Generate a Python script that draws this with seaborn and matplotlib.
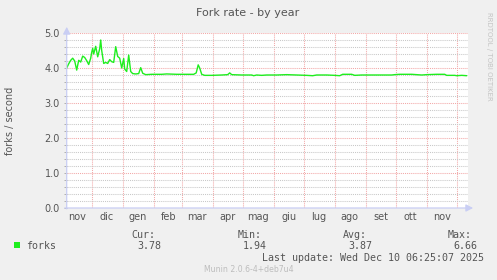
import matplotlib
matplotlib.use("Agg")
import numpy as np
import pandas as pd
import seaborn as sns
import matplotlib.pyplot as plt
import matplotlib.dates as mdates
from matplotlib.ticker import MultipleLocator, FuncFormatter, FormatStrFormatter
from matplotlib.patches import Rectangle

# ---------------- data ----------------
start_date = "2024-11-06"
day_offset = [0, 2, 4, 6, 8, 10, 12, 14, 16, 18, 20, 22, 24, 25, 26, 27, 29, 31, 33, 34,
              35, 37, 39, 41, 43, 45, 47, 49, 51, 53, 54, 55, 57, 58, 60, 62, 64, 66, 69, 72,
              74, 76, 79, 85, 95, 100, 110, 120, 127, 129.5, 131.5, 133, 135, 138, 145, 155,
              161, 163, 165, 175, 185, 187, 190, 195, 200, 210, 220, 230, 240, 246, 250, 260,
              268, 273, 276, 285, 288, 295, 310, 325, 328, 333, 345, 355, 360, 370, 378, 380,
              388, 390, 395, 400]
forks_per_sec = [4.00, 4.12, 4.22, 4.28, 4.20, 3.94, 4.22, 4.17, 4.34, 4.30, 4.21, 4.10, 4.28,
                 4.45, 4.56, 4.40, 4.62, 4.32, 4.55, 4.80, 4.50, 4.13, 4.16, 4.13, 4.24, 4.18,
                 4.16, 4.61, 4.33, 4.28, 4.14, 4.00, 4.27, 3.97, 3.90, 4.37, 3.90, 3.84, 3.83,
                 3.84, 4.01, 3.85, 3.81, 3.82, 3.82, 3.83, 3.82, 3.82, 3.82, 3.86, 4.09, 4.00,
                 3.82, 3.79, 3.79, 3.80, 3.81, 3.86, 3.81, 3.80, 3.80, 3.78, 3.80, 3.79, 3.80,
                 3.80, 3.81, 3.80, 3.79, 3.78, 3.80, 3.80, 3.79, 3.78, 3.82, 3.82, 3.79, 3.80,
                 3.80, 3.80, 3.81, 3.82, 3.82, 3.80, 3.81, 3.82, 3.82, 3.79, 3.79, 3.78, 3.79,
                 3.78]
month_names = ["gen", "feb", "mar", "apr", "mag", "giu", "lug", "ago", "set", "ott", "nov", "dic"]
series_name = "forks"
legend_headers = ["Cur:", "Min:", "Avg:", "Max:"]
legend_values = ["3.78", "1.94", "3.87", "6.66"]
title_text = "Fork rate - by year"
ylabel_text = "forks / second"
last_update = "Last update: Wed Dec 10 06:25:07 2025"
footer_text = "Munin 2.0.6-4+deb7u4"
watermark_text = "RRDTOOL / TOBI OETIKER"

# ---------------- style ----------------
sns.set_theme(style="white")
plt.rcParams["font.family"] = ["DejaVu Sans"]

W, H = 497, 280
BG = "#F0F0F0"
GREEN = "#1EEE1E"
TXT = "#555555"
AXIS = "#C9CEF4"
RED_GRID = "#F2A8A8"
GRAY_GRID = "#C8C8C8"

def fx(px):
    return px / W

def fy(py):
    return 1 - py / H

fig = plt.figure(figsize=(W / 100, H / 100), dpi=100, facecolor=BG)
ax = fig.add_axes([fx(66.7), fy(208), (468.3 - 66.7) / W, 175 / H])
ax.set_facecolor("white")

t0 = pd.Timestamp(start_date)
df = pd.DataFrame({
    "date": t0 + pd.to_timedelta(day_offset, unit="D"),
    "rate": forks_per_sec,
})
sns.lineplot(data=df, x="date", y="rate", ax=ax, color=GREEN, linewidth=1.0, zorder=5)

ax.set_xlim(t0, t0 + pd.Timedelta(days=401.6))
ax.set_ylim(0, 5)

# y axis ticks / grid
ax.yaxis.set_major_locator(MultipleLocator(1.0))
ax.yaxis.set_minor_locator(MultipleLocator(0.2))
ax.yaxis.set_major_formatter(FormatStrFormatter("%.1f"))
ax.tick_params(axis="y", which="both", length=2.4, width=0.7, color="#B0B0B0",
               direction="out", left=True, labelsize=7, labelcolor=TXT, pad=2.4)

# x axis: month boundaries (grid) and mid-month labels
ax.xaxis.set_major_locator(mdates.MonthLocator(bymonthday=1))
ax.xaxis.set_major_formatter(plt.NullFormatter())
ax.xaxis.set_minor_locator(mdates.MonthLocator(bymonthday=16))
ax.xaxis.set_minor_formatter(FuncFormatter(lambda v, p: month_names[mdates.num2date(v).month - 1]))
ax.tick_params(axis="x", which="both", length=0, labelsize=7, labelcolor=TXT, pad=3)

dot = (0, (1, 1))
ax.grid(which="major", axis="x", color=RED_GRID, linestyle=dot, linewidth=0.75)
ax.grid(which="major", axis="y", color=RED_GRID, linestyle=dot, linewidth=0.75)
ax.grid(which="minor", axis="y", color=GRAY_GRID, linestyle=dot, linewidth=0.75)
ax.grid(which="minor", axis="x", visible=False)
ax.set_axisbelow(True)
ax.set_xlabel("")
ax.set_ylabel("")

for s in ax.spines.values():
    s.set_visible(False)

# axis lines with arrows
ax.annotate("", xy=(0, 1.035), xytext=(0, -0.005), xycoords="axes fraction",
            arrowprops=dict(arrowstyle="-|>,head_length=0.35,head_width=0.18", color=AXIS,
                            lw=0.9, shrinkA=0, shrinkB=0), annotation_clip=False, zorder=6)
ax.annotate("", xy=(1.012, 0), xytext=(-0.005, 0), xycoords="axes fraction",
            arrowprops=dict(arrowstyle="-|>,head_length=0.35,head_width=0.18", color=AXIS,
                            lw=0.9, shrinkA=0, shrinkB=0), annotation_clip=False, zorder=6)

# titles and labels
fig.text(fx(248), fy(16.5), title_text, ha="center", va="baseline", fontsize=8, color=TXT)
fig.text(fx(10), fy(120.5), ylabel_text, rotation=90, ha="center", va="center",
         fontsize=7, color=TXT)
fig.text(fx(489), fy(56.5), watermark_text, rotation=270, ha="center", va="center",
         fontsize=5, color="#C4C4C4")

# legend
mono = "DejaVu Sans Mono"
fig.patches.append(Rectangle((fx(14), fy(247.5)), 6 / W, 6 / H, transform=fig.transFigure,
                             facecolor=GREEN, edgecolor="none"))
fig.text(fx(26.2), fy(249), series_name, family=mono, fontsize=7.2, color=TXT, va="baseline")
for hx, vx, hdr, val in zip([131.3, 237.3, 343.0, 447.3], [137.3, 243.0, 348.0, 453.0],
                            legend_headers, legend_values):
    fig.text(fx(hx), fy(237.7), hdr, family=mono, fontsize=7.2, color=TXT, va="baseline")
    fig.text(fx(vx), fy(249), val, family=mono, fontsize=7.2, color=TXT, va="baseline")
fig.text(fx(483.5), fy(260.6), last_update, family=mono, fontsize=7.2, color=TXT,
         ha="right", va="baseline")
fig.text(fx(249), fy(272.3), footer_text, fontsize=5.6, color="#BDBDBD",
         ha="center", va="baseline")

fig.savefig("out.png", dpi=100, facecolor=BG)
